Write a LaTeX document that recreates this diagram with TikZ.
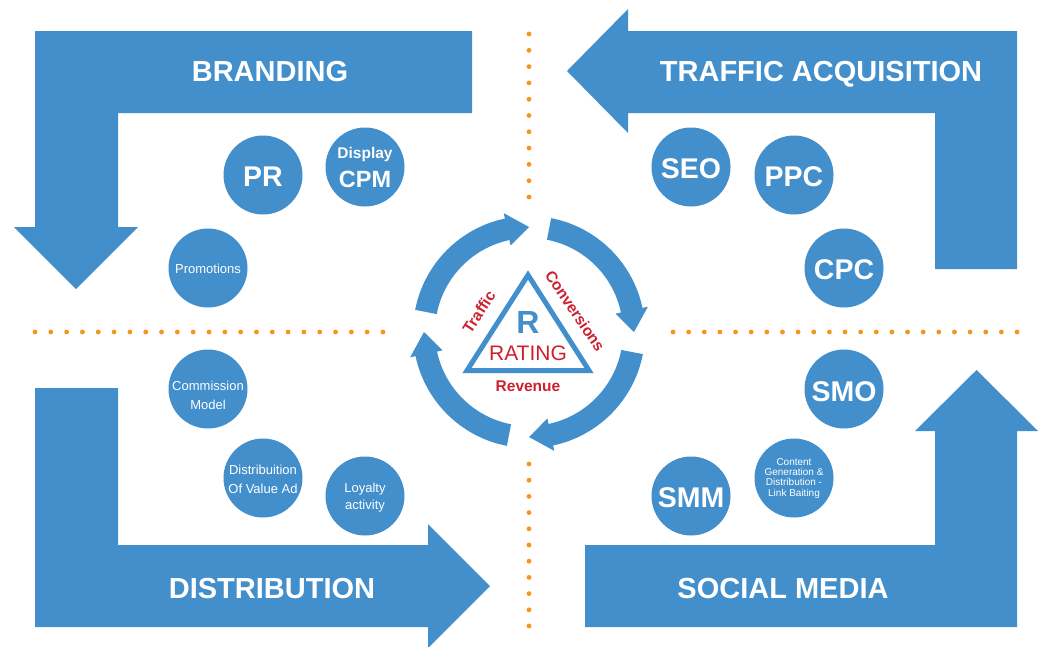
\documentclass[tikz,border=0pt]{standalone}
\usepackage{fontspec}
\setmainfont{Liberation Sans}
\definecolor{rblue}{RGB}{66,143,204}
\definecolor{rred}{RGB}{206,32,46}
\definecolor{rorange}{RGB}{247,148,29}
\newcommand\fsz[1]{\fontsize{#1}{#1}\selectfont}

\begin{document}
\begin{tikzpicture}[x=1pt,y=-1pt,
  band/.style={fill=rblue},
  bub/.style={circle, fill=rblue, minimum size=79pt, inner sep=0pt},
  head/.style={text=white, font=\bfseries\fsz{29pt}, inner sep=0pt, anchor=base},
  big/.style={text=white, font=\bfseries\fsz{28.5pt}, inner sep=0pt, anchor=base},
  small/.style={text=white, font=\fsz{13pt}, inner sep=0pt, anchor=base},
  tiny/.style={text=white, font=\fsz{10pt}, inner sep=0pt, anchor=base},
  ringtxt/.style={text=rred, font=\bfseries\fsz{15.5pt}, inner sep=0pt},
  orangedot/.style={fill=rorange}
]
\useasboundingbox (0,0) rectangle (1048,646);

% ---- orange dotted dividers ----
\foreach \i in {0,...,22} \fill[orangedot] ({35+\i*348/22},332) circle[radius=2.4pt];
\foreach \i in {0,...,22} \fill[orangedot] ({673+\i*344/22},332) circle[radius=2.4pt];
\foreach \i in {0,...,10} \fill[orangedot] (529,{34+\i*16.3}) circle[radius=2.4pt];
\foreach \i in {0,...,10} \fill[orangedot] (529,{464+\i*16.2}) circle[radius=2.4pt];

% ---- four bent arrows ----
\fill[band] (35,31) -- (472,31) -- (472,113) -- (118,113) -- (118,227) -- (138,227)
  -- (76,289) -- (14,227) -- (35,227) -- cycle;
\fill[band] (1017,31) -- (1017,269) -- (935,269) -- (935,113) -- (628,113) -- (628,133)
  -- (567,71) -- (628,9) -- (628,31) -- cycle;
\fill[band] (35,388) -- (118,388) -- (118,545) -- (428,545) -- (428,524) -- (490,586)
  -- (428,648) -- (428,627) -- (35,627) -- cycle;
\fill[band] (585,545) -- (935,545) -- (935,431) -- (915,431) -- (976.5,370) -- (1038,431)
  -- (1017,431) -- (1017,627) -- (585,627) -- cycle;

\node[head] (branding) at (270,81.7) {BRANDING};
\node[head] (traffic) at (821,81.7) {TRAFFIC ACQUISITION};
\node[head] (distribution) at (272,598) {DISTRIBUTION};
\node[head] (social) at (783,598) {SOCIAL MEDIA};

% ---- bubbles: branding ----
\node[bub] (pr) at (263,175) {};
\node[big] at (263,186) {PR};
\node[bub] (cpm) at (365,167) {};
\node[text=white, font=\bfseries\fsz{15.5pt}, inner sep=0pt, anchor=base] at (365,158) {Display};
\node[text=white, font=\bfseries\fsz{23.5pt}, inner sep=0pt, anchor=base] at (365,187) {CPM};
\node[bub] (promo) at (208,268) {};
\node[small] at (208,273.5) {Promotions};

% ---- bubbles: traffic acquisition ----
\node[bub] (seo) at (691,167) {};
\node[big] at (691,178) {SEO};
\node[bub] (ppc) at (794,175) {};
\node[big] at (794,186.5) {PPC};
\node[bub] (cpc) at (844,268) {};
\node[big] at (844,279) {CPC};

% ---- bubbles: distribution ----
\node[bub] (commission) at (208,389) {};
\node[small] at (208,390) {Commission};
\node[small] at (208,409.3) {Model};
\node[bub] (value) at (263,478) {};
\node[small] at (263,474.3) {Distribuition};
\node[small] at (263,493.3) {Of Value Ad};
\node[bub] (loyalty) at (365,496) {};
\node[small] at (365,492.3) {Loyalty};
\node[small] at (365,509.5) {activity};

% ---- bubbles: social media ----
\node[bub] (smo) at (844,389) {};
\node[big] at (844,401) {SMO};
\node[bub] (content) at (794,478) {};
\node[tiny] at (794,465.3) {Content};
\node[tiny] at (794,475.6) {Generation \&};
\node[tiny] at (794,485.9) {Distribution -};
\node[tiny] at (794,496.2) {Link Baiting};
\node[bub] (smm) at (691,496) {};
\node[big] at (691,507) {SMM};

% ---- central cycle of four curved arrows ----
\begin{scope}[shift={(529,332)}]
  \foreach \t in {90,0,-90,-180}
    \fill[rblue] ({\t+79}:116pt) arc[start angle=\t+79, end angle=\t+12, radius=116pt]
      -- ({\t+12}:121.5pt) -- (\t:105pt) -- ({\t+12}:88.5pt) -- ({\t+12}:94pt)
      arc[start angle=\t+12, end angle=\t+79, radius=94pt] -- cycle;
\end{scope}

% ---- rating triangle ----
\draw[rblue, line width=5pt, fill=white, line join=miter]
  (528,275) -- (589,370.5) -- (467,370.5) -- cycle;
\node[text=rblue, font=\bfseries\fsz{32pt}, inner sep=0pt, anchor=base] (r) at (528,333) {R};
\node[text=rred, font=\fsz{21pt}, inner sep=0pt, anchor=base] (rating) at (528,360.5) {RATING};
\node[ringtxt, anchor=base] (revenue) at (528,391.5) {Revenue};
\node[ringtxt, rotate=57, text height=.72em, text depth=0pt] (traf) at (480.5,313) {Traffic};
\node[ringtxt, rotate=-56, text height=.72em, text depth=0pt] (conv) at (573.5,312) {Conversions};
\end{tikzpicture}
\end{document}
